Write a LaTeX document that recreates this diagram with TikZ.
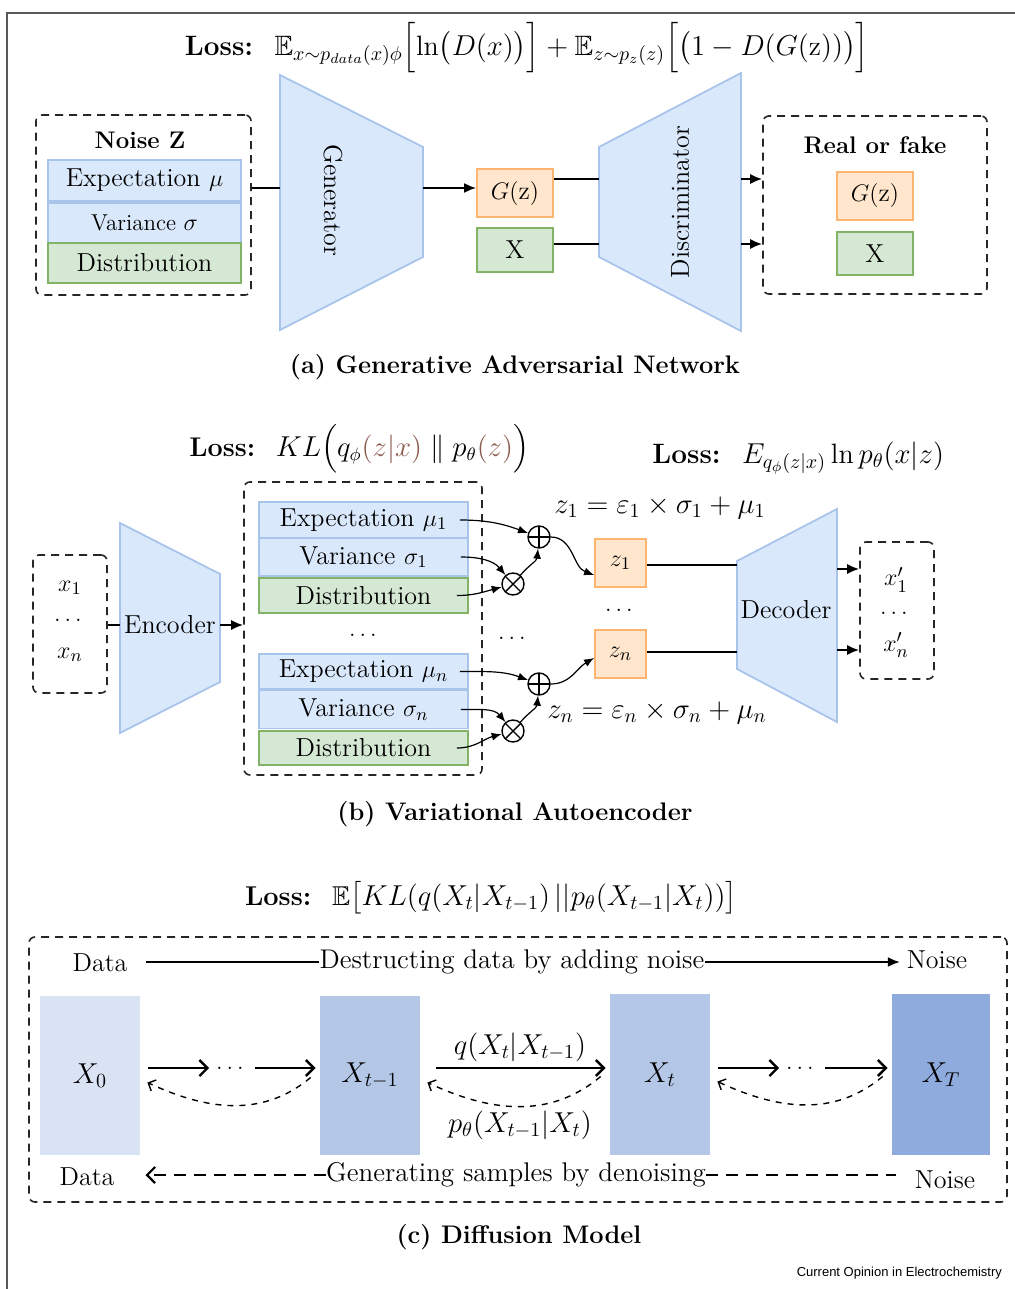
\documentclass[tikz,border=0pt]{standalone}
\usepackage{amsmath,amssymb}
\usepackage{fontspec}
\newfontfamily\creditfont{Liberation Sans}
\usepackage{tikz}
\usetikzlibrary{calc,positioning,arrows.meta}

\definecolor{fillblue}{HTML}{DAE8FC}
\definecolor{lineblue}{HTML}{A9C4EB}
\definecolor{fillgreen}{HTML}{D5E8D4}
\definecolor{linegreen}{HTML}{82B366}
\definecolor{fillorange}{HTML}{FFE6CC}
\definecolor{lineorange}{HTML}{FFB570}
\definecolor{stageA}{HTML}{DAE3F3}
\definecolor{stageB}{HTML}{B4C7E7}
\definecolor{stageC}{HTML}{8FAADC}
\definecolor{lossbrown}{HTML}{8C5A50}

\tikzset{
  bluebox/.style={draw=lineblue, fill=fillblue, line width=0.9pt, inner sep=0pt},
  greenbox/.style={draw=linegreen, fill=fillgreen, line width=0.9pt, inner sep=0pt},
  orangebox/.style={draw=lineorange, fill=fillorange, line width=0.9pt, inner sep=0pt},
  dashbox/.style={draw=black!85, dash pattern=on 4pt off 3pt, line width=0.8pt, rounded corners=3pt, inner sep=0pt},
  net/.style={draw=lineblue, fill=fillblue, line width=0.9pt},
  wire/.style={line width=0.9pt},
  arr/.style={wire, -{Latex[length=6pt,width=5pt]}},
  thinarr/.style={line width=0.6pt, -{Latex[length=5pt,width=4pt]}},
  addnode/.style={circle, draw, line width=0.7pt, minimum size=11pt, inner sep=0pt,
    path picture={\draw[line width=0.7pt] (path picture bounding box.north) -- (path picture bounding box.south)
      (path picture bounding box.west) -- (path picture bounding box.east);}},
  mulnode/.style={circle, draw, line width=0.7pt, minimum size=11pt, inner sep=0pt,
    path picture={\draw[line width=0.7pt] (path picture bounding box.north west) -- (path picture bounding box.south east)
      (path picture bounding box.south west) -- (path picture bounding box.north east);}},
  stage/.style={minimum width=50pt, minimum height=80pt, inner sep=0pt, font=\fontsize{14}{16}\selectfont},
  fwd/.style={line width=1.2pt, -{Straight Barb[length=4pt,width=8pt]}},
  back/.style={line width=0.7pt, dashed, -{Straight Barb[length=3pt,width=6pt]}},
  title/.style={font=\bfseries\fontsize{12}{14}\selectfont},
  caption/.style={font=\bfseries\fontsize{12.7}{15}\selectfont},
  loss/.style={font=\fontsize{14}{16}\selectfont, inner sep=0pt},
  small/.style={inner sep=1pt}
}

\begin{document}
\begin{tikzpicture}[x=0.5pt, y=0.5pt, font=\fontsize{13}{15}\selectfont]
\useasboundingbox (0,0) rectangle (1015,-1289);
% frame
\draw[black!65, line width=0.8pt] (1015,-13) -- (7,-13) -- (7,-1289);

% (a) GAN
\node[loss] (lossA) at (527,-48) {\textbf{Loss:}~ $\mathbb{E}_{x\sim p_{data}(x)\phi}\Bigl[\ln\bigl(D(x)\bigr)\Bigr] + \mathbb{E}_{z\sim p_z(z)}\Bigl[\bigl(1-D(G(\mathrm{z}))\bigr)\Bigr]$};
\node[dashbox, minimum width=107.5pt, minimum height=90pt] (noisebox) at (143.5,-205) {};
\node[title] (noisetitle) at (140,-140) {Noise Z};
\node[bluebox, minimum width=96.5pt, minimum height=20.5pt] (mu) at (144.5,-180.5) {Expectation $\mu$};
\node[bluebox, minimum width=96.5pt, minimum height=20pt, font=\fontsize{11.5}{13}\selectfont] (sigma) at (144.5,-223) {Variance $\sigma$};
\node[greenbox, minimum width=96.5pt, minimum height=20pt] (dist) at (144.5,-263) {Distribution};
% generator
\draw[net] (280,-75) -- (423,-147) -- (423,-257) -- (280,-330) -- cycle;
\node[rotate=-90] (gen) at (333,-200) {Generator};
\coordinate (genin) at (280,-188);
\coordinate (genout) at (423,-188);
\node[orangebox, minimum width=38pt, minimum height=24pt] (gz) at (515,-193) {$G(\mathrm{z})$};
\node[greenbox, minimum width=38pt, minimum height=22pt] (xg) at (515,-250) {X};
% discriminator
\draw[net] (599,-147) -- (741,-73) -- (741,-331) -- (599,-257) -- cycle;
\node[rotate=90] (disc) at (680,-202) {Discriminator};
\coordinate (disin1) at (599,-179);
\coordinate (disin2) at (599,-244);
\coordinate (disout1) at (741,-179);
\coordinate (disout2) at (741,-244);
\node[dashbox, minimum width=112pt, minimum height=89pt] (realbox) at (875,-205) {};
\node[title] (realtitle) at (875,-145) {Real or fake};
\node[orangebox, minimum width=38pt, minimum height=24pt] (gzr) at (875,-196) {$G(\mathrm{z})$};
\node[greenbox, minimum width=38pt, minimum height=21.5pt] (xr) at (875,-253.5) {X};
% connections
\draw[wire] (noisebox.east |- genin) -- (genin);
\draw[arr] (genout) -- (genout -| gz.west);
\draw[wire] (gz.east |- disin1) -- (disin1);
\draw[wire] (xg.east |- disin2) -- (disin2);
\draw[arr] (disout1) -- (disout1 -| realbox.west);
\draw[arr] (disout2) -- (disout2 -| realbox.west);
\node[caption] (capA) at (515,-367) {(a) Generative Adversarial Network};

% (b) VAE
\node[loss, anchor=west, font=\fontsize{13.5}{16}\selectfont] (lossB1) at (189,-449) {\textbf{Loss:}~ $KL\Bigl(q_\phi{\color{lossbrown}(z|x)}\parallel p_\theta{\color{lossbrown}(z)}\Bigr)$};
\node[loss, anchor=west] (lossB2) at (652,-458) {\textbf{Loss:}~ $E_{q_\phi(z|x)}\ln p_\theta(x|z)$};
\node[dashbox, minimum width=37pt, minimum height=69pt] (xin) at (70,-624) {};
\node[small] (x1) at (70,-588) {$x_1$};
\node[small] (xdots) at (70,-620) {$\dots$};
\node[small] (xn) at (70,-655) {$x_n$};
% encoder
\draw[net] (120,-523) -- (220,-574) -- (220,-682) -- (120,-733) -- cycle;
\node (enc) at (170,-625) {Encoder};
\coordinate (encin) at (120,-625);
\coordinate (encout) at (220,-625);
\node[dashbox, minimum width=119pt, minimum height=146.5pt] (lat) at (363,-628.5) {};
\node[bluebox, minimum width=104.5pt, minimum height=18pt] (mu1) at (363.5,-520) {Expectation $\mu_1$};
\node[bluebox, minimum width=104.5pt, minimum height=19pt] (s1) at (363.5,-557) {Variance $\sigma_1$};
\node[greenbox, minimum width=104.5pt, minimum height=17.5pt] (d1) at (363.5,-595.5) {Distribution};
\node (ldots) at (365,-635) {$\dots$};
\node[bluebox, minimum width=104.5pt, minimum height=17.5pt] (mun) at (363.5,-671.5) {Expectation $\mu_n$};
\node[bluebox, minimum width=104.5pt, minimum height=19pt] (sn) at (363.5,-709.5) {Variance $\sigma_n$};
\node[greenbox, minimum width=104.5pt, minimum height=17pt] (dn) at (363.5,-748) {Distribution};
\draw[wire] (xin.east |- encin) -- (encin);
\draw[arr] (encout) -- (encout -| lat.west);
% sampling
\node[addnode] (add1) at (539,-537) {};
\node[mulnode] (mul1) at (513,-584) {};
\node (mdots) at (514,-638) {$\dots$};
\node[addnode] (addn) at (539,-684) {};
\node[mulnode] (muln) at (513,-731) {};
\draw[thinarr] ([xshift=-4.5pt]mu1.east) to[out=0,in=160] (add1);
\draw[thinarr] ([xshift=-4pt]s1.east) to[out=0,in=130] (mul1);
\draw[thinarr] ([xshift=-6pt]d1.east) to[out=0,in=195] (mul1);
\draw[thinarr] (mul1) to[out=50,in=-95] (add1);
\draw[thinarr] ([xshift=-4.5pt]mun.east) to[out=0,in=160] (addn);
\draw[thinarr] ([xshift=-4pt]sn.east) to[out=0,in=130] (muln);
\draw[thinarr] ([xshift=-6pt]dn.east) to[out=0,in=195] (muln);
\draw[thinarr] (muln) to[out=50,in=-95] (addn);
\node[orangebox, minimum width=25.5pt, minimum height=24pt] (z1) at (620.5,-563) {$z_1$};
\node (zdots) at (621,-610) {$\dots$};
\node[orangebox, minimum width=25.5pt, minimum height=24pt] (zn) at (620.5,-654) {$z_n$};
\draw[thinarr] (add1) to[out=0,in=160] ([yshift=-6pt]z1.west);
\draw[thinarr] (addn) to[out=0,in=210] ([yshift=-2pt]zn.west);
\node[loss] (eq1) at (660,-508) {$z_1=\varepsilon_1\times\sigma_1+\mu_1$};
\node[loss] (eqn) at (657,-713) {$z_n=\varepsilon_n\times\sigma_n+\mu_n$};
% decoder
\draw[net] (737,-561) -- (837,-509) -- (837,-722) -- (737,-669) -- cycle;
\node (dec) at (786,-610) {Decoder};
\coordinate (decin1) at (737,-565);
\coordinate (decin2) at (737,-652);
\coordinate (decout1) at (837,-569);
\coordinate (decout2) at (837,-650);
\node[dashbox, minimum width=37pt, minimum height=68.5pt] (xout) at (897,-610.5) {};
\node[small] (xp1) at (896,-580) {$x_1'$};
\node[small] (xpdots) at (896,-613) {$\dots$};
\node[small] (xpn) at (896,-645) {$x_n'$};
\draw[wire] (z1.east |- decin1) -- (decin1);
\draw[wire] (zn.east |- decin2) -- (decin2);
\draw[arr] (decout1) -- (decout1 -| xout.west);
\draw[arr] (decout2) -- (decout2 -| xout.west);
\node[caption] (capB) at (515,-814) {(b) Variational Autoencoder};

% (c) diffusion
\node[loss, font=\fontsize{13.6}{16}\selectfont] (lossC) at (491,-898) {\textbf{Loss:}~ $\mathbb{E}\bigl[KL(q(X_t|X_{t-1})\,||p_\theta(X_{t-1}|X_t))\bigr]$};
\node[dashbox, minimum width=489pt, minimum height=132.5pt] (diffbox) at (518,-1069.5) {};
\node (dataA) at (100,-963) {Data};
\node[inner sep=0pt, font=\fontsize{13.5}{15}\selectfont] (destr) at (512,-962) {Destructing data by adding noise};
\node (noiseA) at (937,-960) {Noise};
\draw[wire] ([xshift=6pt]dataA.east |- destr) -- (destr.west);
\draw[arr] (destr.east) -- (noiseA.west |- destr);
\node[stage, fill=stageA, minimum height=79.5pt] (X0) at (90,-1075.5) {$X_0$};
\node[stage, fill=stageB, minimum height=79.5pt] (Xa) at (370,-1075.5) {$X_{t-1}$};
\node[stage, fill=stageB, minimum height=80.5pt] (Xb) at (660,-1074.5) {$X_t$};
\node[stage, fill=stageC, minimum width=49pt, minimum height=80.5pt] (XT) at (941,-1074.5) {$X_T$};
\node (dotsA) at (232,-1068) {$\dots$};
\node (dotsB) at (802,-1068) {$\dots$};
\draw[fwd, shorten <=4pt] (X0.east |- dotsA) -- (dotsA);
\draw[fwd, shorten >=2pt] (dotsA) -- (Xa.west |- dotsA);
\draw[fwd, shorten <=8pt, shorten >=2pt] (Xa.east |- dotsA) -- (Xb.west |- dotsA);
\draw[fwd, shorten <=4pt] (Xb.east |- dotsB) -- (dotsB);
\draw[fwd, shorten >=2pt] (dotsB) -- (XT.west |- dotsB);
\node[loss] (qlab) at (520,-1047) {$q(X_t|X_{t-1})$};
\draw[back] ($(Xa.west)+(-9,-2)$) to[out=-140,in=-25] ($(X0.east)+(7,-7)$);
\draw[back] ($(Xb.west)+(-9,-2)$) to[out=-140,in=-25] ($(Xa.east)+(7,-7)$);
\draw[back] ($(XT.west)+(-9,-2)$) to[out=-140,in=-25] ($(Xb.east)+(7,-7)$);
\node[loss] (plab) at (520,-1125) {$p_\theta(X_{t-1}|X_t)$};
\node (dataB) at (87,-1177) {Data};
\node[inner sep=0pt, font=\fontsize{13.5}{15}\selectfont] (gener) at (516,-1175) {Generating samples by denoising};
\node (noiseB) at (945,-1180) {Noise};
\draw[line width=1.1pt, dash pattern=on 6pt off 4pt, -{Straight Barb[length=4pt,width=8pt]}] (gener.west) -- ([xshift=12pt]dataB.east |- gener);
\draw[line width=1.1pt, dash pattern=on 6pt off 4pt] (gener.east) -- ([xshift=-6pt]noiseB.west |- gener);
\node[caption] (capC) at (519,-1237) {(c) Diffusion Model};
\node[anchor=east, font=\creditfont\fontsize{6.5}{8}\selectfont] (credit) at (1009,-1273) {Current Opinion in Electrochemistry};
\end{tikzpicture}
\end{document}
